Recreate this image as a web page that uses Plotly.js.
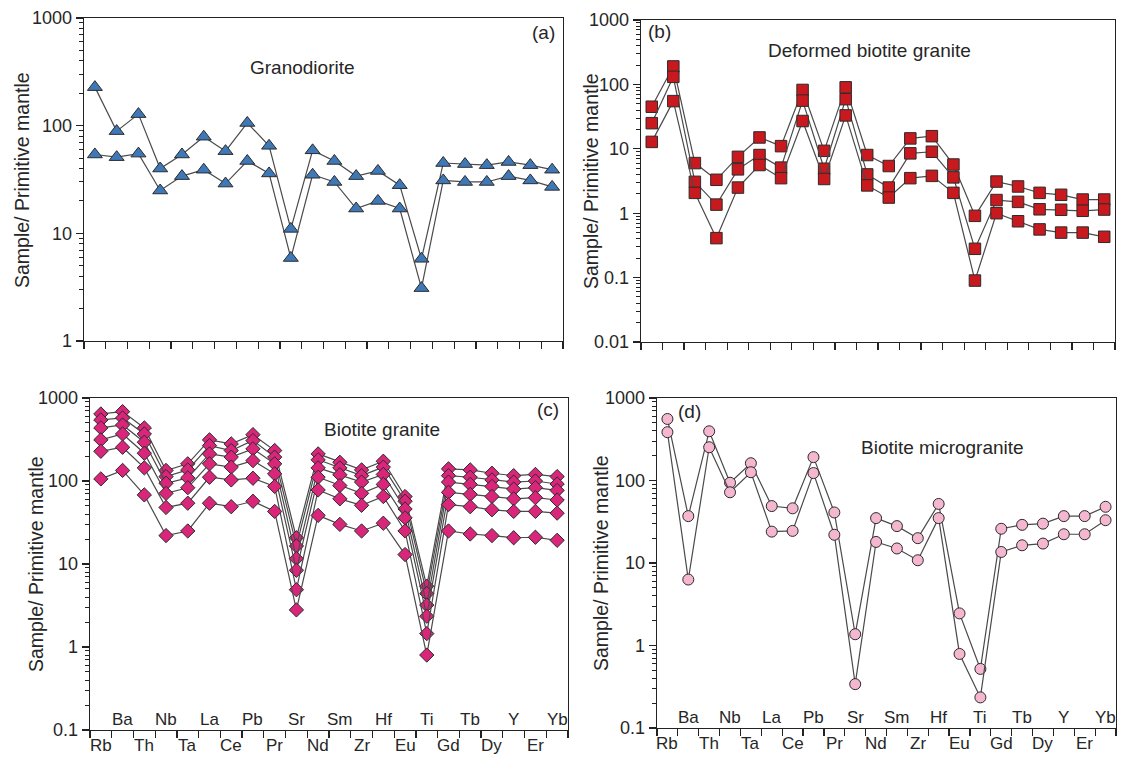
<!DOCTYPE html>
<html>
<head>
<meta charset="utf-8">
<script src="https://cdn.plot.ly/plotly-3.0.1.min.js"></script>
<style>
  html, body { margin: 0; padding: 0; background: #fff; }
  #chart { width: 1122px; height: 764px; }
</style>
</head>
<body>
<div id="chart"></div>
<script>
// ---------------- data ----------------
const elements = ['Rb','Ba','Th','Nb','Ta','La','Ce','Pb','Pr','Sr','Nd','Sm','Zr','Hf','Eu','Ti','Gd','Tb','Dy','Y','Er','Yb'];

// (a) Granodiorite
const granodiorite1 = [228, 89, 128, 40, 54, 79, 58, 106, 65, 11, 59, 47, 34, 38, 28, 5.8, 45, 44, 43, 46, 43, 39];
const granodiorite2 = [54, 51, 55, 25, 34, 39, 29, 47, 36, 5.9, 35, 30, 17, 20, 17, 3.1, 31, 30, 30, 34, 31, 27];

// (b) Deformed biotite granite
const deformed1 = [45, 190, 6, 3.3, 7.5, 15, 11, 82, 9.3, 90, 8, 5.4, 14.5, 15.7, 5.7, 0.91, 3.1, 2.6, 2.07, 1.93, 1.63, 1.63];
const deformed2 = [25, 131, 3.07, 1.36, 4.8, 8, 5.1, 56, 4.9, 59, 4, 2.5, 8.5, 9, 3.6, 0.28, 1.6, 1.5, 1.15, 1.13, 1.09, 1.14];
const deformed3 = [12.8, 55, 2.07, 0.41, 2.5, 5.6, 3.5, 27, 3.4, 33, 2.7, 1.75, 3.5, 3.8, 2.07, 0.09, 1.0, 0.75, 0.56, 0.5, 0.5, 0.43];

// (c) Biotite granite
const biotite1 = [642, 685, 436, 134, 161, 313, 280, 362, 233, 20.7, 212, 168, 136, 173, 65, 5.4, 140, 136, 124, 116, 120, 113];
const biotite2 = [544, 575, 369, 113, 136, 267, 233, 307, 194, 16.5, 180, 144, 116, 147, 57, 4.4, 116, 111, 103, 97, 100, 92];
const biotite3 = [436, 473, 293, 94, 109, 212, 194, 244, 161, 11.6, 144, 119, 97, 120, 46, 3.2, 97, 91, 86, 80, 83, 77];
const biotite4 = [313, 369, 216, 71, 83, 161, 147, 176, 122, 8.4, 111, 88, 71, 91, 36, 2.35, 73, 69, 65, 61, 63, 59];
const biotite5 = [228, 255, 144, 48, 54, 111, 103, 108, 86, 4.9, 78, 61, 51, 65, 25, 1.45, 52, 49, 45, 43, 43, 41];
const biotite6 = [106, 134, 68, 22, 25, 54, 49, 57, 43, 2.8, 38.5, 30, 25, 31, 13, 0.8, 25, 23, 22, 20.7, 21, 19.3];

// (d) Biotite microgranite
const micro1 = [557, 37, 395, 94, 162, 49, 46, 192, 41, 1.37, 35, 28, 20, 52, 2.45, 0.52, 26, 29, 30, 37, 37, 48];
const micro2 = [385, 6.3, 253, 72, 126, 24, 24.5, 123, 22, 0.34, 18, 15, 10.8, 35, 0.79, 0.235, 13.6, 16.4, 17.2, 22.3, 22.3, 33];

const panelTitles = ['Granodiorite', 'Deformed biotite granite', 'Biotite granite', 'Biotite microgranite'];
const panelLetters = ['(a)', '(b)', '(c)', '(d)'];
const yTitle = 'Sample/ Primitive mantle';

// ---------------- styling ----------------
const W = 1122, H = 764;
const FONT = 'Liberation Sans, Arial, Helvetica, sans-serif';
const TXT = '#262626';
const px = v => v / W;
const py = v => 1 - v / H;

function series(xa, ya, y, symbol, fill, size) {
  return {
    x: elements.map((_, i) => i), y: y, xaxis: xa, yaxis: ya,
    type: 'scatter', mode: 'lines+markers', cliponaxis: false,
    line: { color: '#4a4a4a', width: 1.2 },
    marker: { symbol: symbol, size: size, color: fill, line: { color: '#2b2b2b', width: 1 } },
    hoverinfo: 'x+y'
  };
}

const traces = [];
[granodiorite1, granodiorite2].forEach(s => traces.push(series('x', 'y', s, 'triangle-up', '#3f78b6', 13)));
[deformed1, deformed2, deformed3].forEach(s => traces.push(series('x2', 'y2', s, 'square', '#c8191f', 11.5)));
[biotite1, biotite2, biotite3, biotite4, biotite5, biotite6].forEach(s => traces.push(series('x3', 'y3', s, 'diamond', '#d9267a', 11)));
[micro1, micro2].forEach(s => traces.push(series('x4', 'y4', s, 'circle', '#f4b7cf', 11)));

function xAxis(domain, anchor) {
  return {
    domain: domain, anchor: anchor, type: 'linear',
    range: [-0.5, elements.length - 0.5],
    tickmode: 'array',
    tickvals: elements.map((_, i) => i - 0.5).concat([elements.length - 0.5]),
    showticklabels: false, ticks: 'outside', ticklen: 7, tickwidth: 1.2, tickcolor: '#222',
    showline: true, mirror: true, linecolor: '#222', linewidth: 1.3,
    showgrid: false, zeroline: false, fixedrange: true
  };
}
function yAxis(domain, anchor, range) {
  return {
    domain: domain, anchor: anchor, type: 'log', range: range,
    dtick: 1, exponentformat: 'none',
    ticks: 'outside', ticklen: 7, tickwidth: 1.2, tickcolor: '#222',
    minor: { ticks: 'outside', ticklen: 4, tickwidth: 1, tickcolor: '#222', dtick: 'D1', showgrid: false },
    tickfont: { family: FONT, size: 18, color: TXT },
    showline: true, mirror: true, linecolor: '#222', linewidth: 1.3,
    showgrid: false, zeroline: false, fixedrange: true
  };
}

// panel pixel boxes [left, right, top, bottom]
const boxA = [84, 563, 18, 341];
const boxB = [641, 1115, 20, 342];
const boxC = [90, 568, 398, 730];
const boxD = [657, 1116, 398, 728];
const dx = b => [px(b[0]), px(b[1])];
const dy = b => [py(b[3]), py(b[2])];

const annotations = [];
function txt(x, y, text, size, opts) {
  annotations.push(Object.assign({
    xref: 'paper', yref: 'paper', x: px(x), y: py(y), text: text, showarrow: false,
    xanchor: 'center', yanchor: 'middle', font: { family: FONT, size: size, color: TXT }
  }, opts || {}));
}
// panel titles
txt(302, 67, panelTitles[0], 19);
txt(869, 50, panelTitles[1], 19);
txt(382, 430, panelTitles[2], 19);
txt(942, 447, panelTitles[3], 19);
// panel letters
txt(543, 33, panelLetters[0], 19);
txt(659, 31, panelLetters[1], 19);
txt(548, 409, panelLetters[2], 19);
txt(689, 411, panelLetters[3], 19);
// y titles
txt(22, 180, yTitle, 19.5, { textangle: -90 });
txt(591, 181, yTitle, 19.5, { textangle: -90 });
txt(36, 564, yTitle, 19.5, { textangle: -90 });
txt(601, 563, yTitle, 19.5, { textangle: -90 });
// element labels for (c) and (d), alternating below / above axis
[['x3', boxC], ['x4', boxD]].forEach(([xa, b]) => {
  elements.forEach((el, i) => {
    const below = (i % 2 === 0);
    annotations.push({
      xref: xa, yref: 'paper', x: i, y: py(below ? b[3] + 15 : b[3] - 11),
      text: el, showarrow: false, xanchor: 'center', yanchor: 'middle',
      font: { family: FONT, size: 17, color: TXT }
    });
  });
});

const layout = {
  width: W, height: H,
  margin: { l: 0, r: 0, t: 0, b: 0 },
  paper_bgcolor: '#fff', plot_bgcolor: '#fff',
  showlegend: false,
  font: { family: FONT, color: TXT },
  xaxis: xAxis(dx(boxA), 'y'),
  yaxis: yAxis(dy(boxA), 'x', [0, 3]),
  xaxis2: xAxis(dx(boxB), 'y2'),
  yaxis2: yAxis(dy(boxB), 'x2', [-2, 3]),
  xaxis3: xAxis(dx(boxC), 'y3'),
  yaxis3: yAxis(dy(boxC), 'x3', [-1, 3]),
  xaxis4: xAxis(dx(boxD), 'y4'),
  yaxis4: yAxis(dy(boxD), 'x4', [-1, 3]),
  annotations: annotations
};

Plotly.newPlot('chart', traces, layout, { displayModeBar: false, staticPlot: true });
</script>
</body>
</html>
